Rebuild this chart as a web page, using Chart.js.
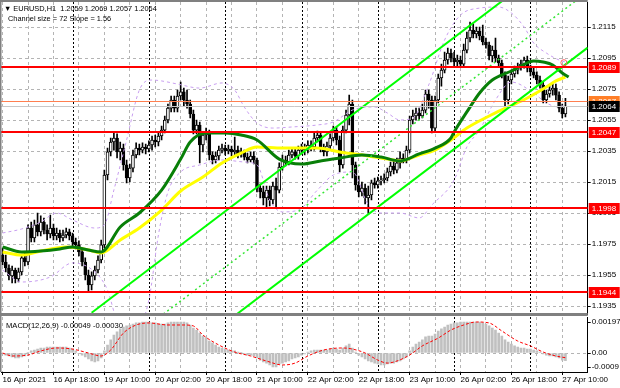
<!DOCTYPE html>
<html>
<head>
<meta charset="utf-8" />
<title>EURUSD H1</title>
<script src="https://cdn.jsdelivr.net/npm/chart.js@4"></script>
<style>
  html, body { margin: 0; padding: 0; background: #fff; }
  #wrap { position: relative; width: 620px; height: 388px; overflow: hidden; }
  #priceChart { position: absolute; left: 0; top: 0; }
  #macdChart { position: absolute; left: 0; top: 316px; }
</style>
</head>
<body>
<div id="wrap">
  <canvas id="priceChart" width="620" height="316"></canvas>
  <canvas id="macdChart" width="620" height="72"></canvas>
</div>
<script>
// hourly bars, 16 Apr 02:00 -> 27 Apr 11:00
const opens = [1.19679,1.19634,1.19595,1.19544,1.19582,1.19524,1.19570,1.19660,1.19634,1.19853,
  1.19789,1.19873,1.19828,1.19892,1.19840,1.19815,1.19853,1.19802,1.19821,1.19789,
  1.19808,1.19828,1.19802,1.19763,1.19744,1.19699,1.19634,1.19550,1.19486,1.19544,
  1.19582,1.19647,1.19744,1.20195,1.20344,1.20408,1.20434,1.20344,1.20369,1.20260,
  1.20176,1.20240,1.20324,1.20369,1.20356,1.20376,1.20363,1.20389,1.20421,1.20408,
  1.20447,1.20485,1.20550,1.20627,1.20679,1.20627,1.20705,1.20731,1.20679,1.20653,
  1.20589,1.20485,1.20518,1.20389,1.20453,1.20473,1.20324,1.20292,1.20318,1.20356,
  1.20369,1.20350,1.20363,1.20344,1.20356,1.20331,1.20344,1.20311,1.20292,1.20318,
  1.20292,1.20111,1.20086,1.20047,1.20098,1.20034,1.20124,1.20098,1.20247,1.20292,
  1.20279,1.20324,1.20344,1.20318,1.20356,1.20369,1.20356,1.20389,1.20376,1.20434,
  1.20453,1.20369,1.20344,1.20382,1.20434,1.20485,1.20421,1.20260,1.20485,1.20582,
  1.20653,1.20260,1.20131,1.20086,1.20111,1.20047,1.20066,1.20144,1.20131,1.20157,
  1.20163,1.20176,1.20215,1.20253,1.20227,1.20273,1.20305,1.20292,1.20356,1.20550,
  1.20576,1.20595,1.20576,1.20614,1.20718,1.20679,1.20498,1.20679,1.20821,1.20872,
  1.20937,1.20982,1.20950,1.20924,1.20937,1.20911,1.21001,1.21079,1.21130,1.21105,
  1.21124,1.21092,1.21053,1.21034,1.20963,1.21001,1.20950,1.20918,1.20840,1.20679,
  1.20808,1.20847,1.20872,1.20892,1.20911,1.20937,1.20885,1.20860,1.20840,1.20808,
  1.20776,1.20679,1.20718,1.20743,1.20756,1.20711,1.20627,1.20590];
const highs = [1.19724,1.19679,1.19615,1.19608,1.19595,1.19595,1.19679,1.19699,1.19873,1.19892,
  1.19905,1.19950,1.19931,1.19918,1.19873,1.19937,1.19879,1.19853,1.19840,1.19840,
  1.19853,1.19847,1.19821,1.19789,1.19770,1.19724,1.19660,1.19582,1.19570,1.19608,
  1.19673,1.19776,1.20227,1.20369,1.20434,1.20473,1.20460,1.20408,1.20395,1.20292,
  1.20266,1.20356,1.20402,1.20395,1.20402,1.20395,1.20415,1.20447,1.20453,1.20473,
  1.20511,1.20576,1.20653,1.20705,1.20705,1.20743,1.20795,1.20756,1.20743,1.20679,
  1.20614,1.20550,1.20537,1.20473,1.20498,1.20485,1.20344,1.20344,1.20382,1.20395,
  1.20389,1.20389,1.20382,1.20440,1.20382,1.20369,1.20356,1.20337,1.20344,1.20344,
  1.20305,1.20137,1.20124,1.20124,1.20124,1.20150,1.20176,1.20273,1.20324,1.20318,
  1.20356,1.20369,1.20369,1.20382,1.20395,1.20395,1.20415,1.20415,1.20466,1.20479,
  1.20466,1.20395,1.20408,1.20460,1.20511,1.20505,1.20447,1.20511,1.20614,1.20711,
  1.20679,1.20279,1.20189,1.20150,1.20137,1.20124,1.20163,1.20176,1.20182,1.20189,
  1.20202,1.20240,1.20279,1.20292,1.20305,1.20344,1.20331,1.20382,1.20576,1.20614,
  1.20627,1.20627,1.20653,1.20743,1.20743,1.20705,1.20705,1.20847,1.20911,1.20989,
  1.21014,1.21008,1.20989,1.20969,1.20963,1.21040,1.21118,1.21182,1.21169,1.21150,
  1.21150,1.21163,1.21079,1.21053,1.21027,1.21079,1.20969,1.20937,1.20860,1.20834,
  1.20872,1.20898,1.20918,1.20937,1.20956,1.20963,1.20905,1.20885,1.20860,1.20834,
  1.20795,1.20743,1.20769,1.20782,1.20782,1.20731,1.20653,1.20690];
const lows = [1.19615,1.19570,1.19518,1.19499,1.19499,1.19505,1.19550,1.19608,1.19615,1.19763,
  1.19763,1.19802,1.19802,1.19815,1.19776,1.19789,1.19776,1.19776,1.19763,1.19770,
  1.19789,1.19776,1.19737,1.19718,1.19673,1.19608,1.19518,1.19441,1.19453,1.19518,
  1.19563,1.19628,1.19724,1.20163,1.20318,1.20356,1.20305,1.20292,1.20227,1.20144,
  1.20150,1.20215,1.20305,1.20324,1.20337,1.20331,1.20344,1.20356,1.20376,1.20382,
  1.20421,1.20466,1.20531,1.20602,1.20602,1.20602,1.20679,1.20640,1.20627,1.20563,
  1.20460,1.20460,1.20273,1.20344,1.20421,1.20292,1.20266,1.20273,1.20292,1.20337,
  1.20324,1.20331,1.20318,1.20324,1.20305,1.20311,1.20292,1.20273,1.20279,1.20266,
  1.20086,1.20047,1.20002,1.19989,1.19995,1.20008,1.19989,1.20079,1.20227,1.20253,
  1.20260,1.20305,1.20298,1.20298,1.20331,1.20324,1.20337,1.20350,1.20356,1.20408,
  1.20344,1.20318,1.20318,1.20356,1.20415,1.20389,1.20215,1.20240,1.20466,1.20518,
  1.20176,1.20098,1.20053,1.20060,1.20008,1.19950,1.20034,1.20111,1.20111,1.20131,
  1.20144,1.20157,1.20189,1.20202,1.20208,1.20240,1.20273,1.20273,1.20337,1.20524,
  1.20550,1.20550,1.20563,1.20595,1.20627,1.20466,1.20479,1.20660,1.20769,1.20853,
  1.20911,1.20924,1.20898,1.20892,1.20898,1.20898,1.20982,1.21053,1.21079,1.21079,
  1.21066,1.21034,1.21014,1.20937,1.20924,1.20924,1.20898,1.20821,1.20614,1.20653,
  1.20782,1.20827,1.20847,1.20872,1.20885,1.20860,1.20834,1.20821,1.20782,1.20756,
  1.20660,1.20660,1.20698,1.20711,1.20679,1.20602,1.20563,1.20570];
const closes = [1.19634,1.19595,1.19544,1.19582,1.19524,1.19570,1.19660,1.19634,1.19853,1.19789,
  1.19873,1.19828,1.19892,1.19840,1.19815,1.19853,1.19802,1.19821,1.19789,1.19808,
  1.19828,1.19802,1.19763,1.19744,1.19699,1.19634,1.19550,1.19486,1.19544,1.19582,
  1.19647,1.19744,1.20195,1.20344,1.20408,1.20434,1.20344,1.20369,1.20260,1.20176,
  1.20240,1.20324,1.20369,1.20356,1.20376,1.20363,1.20389,1.20421,1.20408,1.20447,
  1.20485,1.20550,1.20627,1.20679,1.20627,1.20705,1.20731,1.20679,1.20653,1.20589,
  1.20485,1.20518,1.20389,1.20453,1.20473,1.20324,1.20292,1.20318,1.20356,1.20369,
  1.20350,1.20363,1.20344,1.20356,1.20331,1.20344,1.20311,1.20292,1.20318,1.20292,
  1.20111,1.20086,1.20047,1.20098,1.20034,1.20124,1.20098,1.20247,1.20292,1.20279,
  1.20324,1.20344,1.20318,1.20356,1.20369,1.20356,1.20389,1.20376,1.20434,1.20453,
  1.20369,1.20344,1.20382,1.20434,1.20485,1.20421,1.20260,1.20485,1.20582,1.20653,
  1.20260,1.20131,1.20086,1.20111,1.20047,1.20066,1.20144,1.20131,1.20157,1.20163,
  1.20176,1.20215,1.20253,1.20227,1.20273,1.20305,1.20292,1.20356,1.20550,1.20576,
  1.20595,1.20576,1.20614,1.20718,1.20679,1.20498,1.20679,1.20821,1.20872,1.20937,
  1.20982,1.20950,1.20924,1.20937,1.20911,1.21001,1.21079,1.21130,1.21105,1.21124,
  1.21092,1.21053,1.21034,1.20963,1.21001,1.20950,1.20918,1.20840,1.20679,1.20808,
  1.20847,1.20872,1.20892,1.20911,1.20937,1.20885,1.20860,1.20840,1.20808,1.20776,
  1.20679,1.20718,1.20743,1.20756,1.20711,1.20627,1.20589,1.20640];

// moving averages, read at bar positions
const maGreenIdx = [0,6,12,18,22,27,31,37,43,50,56,59,64,70,75,80,87,94,100,106,113,119,125,131,136,141,142,146,150,154,160,163,167,170,173,176,178];
const maGreenVal = [1.19731,1.19699,1.19705,1.19718,1.19731,1.19711,1.19699,1.19860,1.19950,1.20098,1.20298,1.20408,1.20466,1.20466,1.20453,1.20421,1.20298,1.20266,1.20286,1.20305,1.20324,1.20311,1.20286,1.20331,1.20369,1.20434,1.20473,1.20602,1.20724,1.20808,1.20866,1.20898,1.20931,1.20924,1.20905,1.20853,1.20827];
const maYellowIdx = [0,6,12,20,27,31,37,43,50,56,63,69,75,80,88,99,106,115,121,125,131,136,141,146,153,159,165,171,174,177];
const maYellowVal = [1.19699,1.19679,1.19705,1.19731,1.19711,1.19692,1.19776,1.19853,1.19969,1.20092,1.20182,1.20273,1.20337,1.20376,1.20369,1.20369,1.20344,1.20318,1.20298,1.20286,1.20324,1.20356,1.20421,1.20498,1.20576,1.20634,1.20692,1.20763,1.20802,1.20827];

// envelope bands (dashed violet)
const bandUpIdx = [0,6,12,17,22,29,32,35,39,43,47,50,55,62,69,73,76,80,85,91,99,104,110,117,121,125,129,134,139,144,150,156,160,164,167,171,175,177];
const bandUpVal = [1.19821,1.19847,1.19892,1.19950,1.19905,1.19853,1.19873,1.20098,1.20421,1.20743,1.20808,1.20802,1.20782,1.20756,1.20789,1.20743,1.20634,1.20531,1.20498,1.20505,1.20518,1.20537,1.20614,1.20634,1.20595,1.20550,1.20563,1.20776,1.21066,1.21227,1.21272,1.21279,1.21240,1.21150,1.21047,1.20982,1.20937,1.20924];
const bandLoIdx = [0,6,15,22,29,33,36,42,46,49,52,56,62,69,76,80,84,88,93,99,104,110,115,119,125,131,135,142,146,150,155,160,167,171,175,177];
const bandLoVal = [1.19582,1.19505,1.19537,1.19628,1.19570,1.19453,1.19260,1.19196,1.19389,1.19808,1.20086,1.20215,1.20260,1.20292,1.20279,1.20260,1.20034,1.19957,1.19969,1.20098,1.20195,1.20215,1.20002,1.19950,1.19950,1.19918,1.20002,1.20163,1.20376,1.20485,1.20679,1.20795,1.20724,1.20660,1.20634,1.20653];

// regression channel (72 pips wide, slope 1.56)
const channelIdx = [28, 184];
const channelUpper = [1.19306, 1.21737];
const channelMid = [1.18946, 1.21377];
const channelLower = [1.18586, 1.21017];

const redLevels = [1.2089, 1.2047, 1.1998, 1.1944];
const pivotLevel = 1.2067;
const bidLevel = 1.2064;
const markerIdx = [176.5];
const markerVal = [1.2092];

const priceTicks = [1.2115, 1.2095, 1.2075, 1.2055, 1.2035, 1.2015, 1.1995, 1.1975, 1.1955, 1.1935];
const dayBreaks = [22, 46, 70, 94, 118, 142, 166];
const timeLabelIdx = [0, 16, 32, 48, 64, 80, 96, 112, 128, 144, 160, 176];
const timeLabels = ['16 Apr 2021', '16 Apr 18:00', '19 Apr 10:00', '20 Apr 02:00', '20 Apr 18:00', '21 Apr 10:00',
  '22 Apr 02:00', '22 Apr 18:00', '23 Apr 10:00', '26 Apr 02:00', '26 Apr 18:00', '27 Apr 10:00'];

// MACD(12,26,9) main values (histogram) and signal
const macdHist = [-0.00006,-0.00013,-0.00019,-0.00025,-0.00032,-0.00032,-0.00025,-0.00019,0.00002,0.00013,
  0.00019,0.00025,0.00032,0.00032,0.00038,0.00038,0.00038,0.00038,0.00038,0.00038,
  0.00038,0.00032,0.00025,0.00013,-0.00002,-0.00013,-0.00025,-0.00038,-0.00051,-0.00057,
  -0.00051,-0.00032,0.00013,0.00051,0.00083,0.00114,0.00134,0.00153,0.00165,0.00172,
  0.00178,0.00184,0.00191,0.00191,0.00197,0.00197,0.00197,0.00191,0.00191,0.00184,
  0.00184,0.00184,0.00191,0.00197,0.00197,0.00197,0.00197,0.00197,0.00191,0.00178,
  0.00159,0.00146,0.00127,0.00108,0.00095,0.00076,0.00064,0.00051,0.00038,0.00032,
  0.00025,0.00019,0.00013,0.00013,0.00006,0.00001,-0.00006,-0.00013,-0.00013,-0.00019,
  -0.00032,-0.00045,-0.00057,-0.00064,-0.00076,-0.00089,-0.00089,-0.00070,-0.00064,-0.00057,
  -0.00051,-0.00038,-0.00032,-0.00025,-0.00013,-0.00006,0.00006,0.00013,0.00019,0.00019,
  0.00019,0.00019,0.00019,0.00025,0.00032,0.00025,0.00019,0.00032,0.00045,0.00057,
  0.00032,0.00006,-0.00013,-0.00025,-0.00038,-0.00051,-0.00057,-0.00064,-0.00070,-0.00076,
  -0.00076,-0.00070,-0.00064,-0.00064,-0.00057,-0.00051,-0.00038,-0.00025,0.00013,0.00038,
  0.00057,0.00070,0.00083,0.00102,0.00108,0.00108,0.00121,0.00140,0.00153,0.00165,
  0.00178,0.00184,0.00191,0.00191,0.00197,0.00197,0.00197,0.00197,0.00197,0.00197,
  0.00197,0.00191,0.00184,0.00172,0.00159,0.00146,0.00127,0.00108,0.00083,0.00070,
  0.00057,0.00045,0.00038,0.00032,0.00032,0.00025,0.00025,0.00019,0.00013,0.00006,
  -0.00006,-0.00013,-0.00019,-0.00019,-0.00025,-0.00032,-0.00045,-0.00049];
const signalIdx = [0,3,8,12,17,22,27,31,34,38,42,46,52,57,60,63,68,73,78,83,88,92,96,101,107,110,114,118,121,124,128,132,137,141,145,149,153,157,162,166,170,174,177];
const signalVal = [0,-0.00019,-0.00013,0.00013,0.00032,0.00025,0,-0.00019,0.00019,0.00127,0.00178,0.00191,0.00178,0.00178,0.00172,0.00114,0.00051,0.00006,-0.00019,-0.00051,-0.00076,-0.00064,-0.00019,0.00019,0.00032,0.00025,0,-0.00045,-0.00064,-0.00051,-0.00013,0.00045,0.00095,0.00146,0.00178,0.00197,0.00191,0.00140,0.00076,0.00045,0.00006,-0.00019,-0.00030];
const macdTicks = [0.00197, 0, -0.0009];
const macdTickLabels = ['0.00197', '0.00', '-0.0009'];

const FONT = "'Liberation Sans', Arial, sans-serif";
Chart.defaults.font.family = FONT;
Chart.defaults.font.size = 8;
Chart.defaults.color = '#000';

const GRID = '#b4b4b4';
const AXIS_W = 32.3;
const X_MIN = -0.5, X_MAX = 184;
const barIdx = opens.map((_, i) => i);
const pts = (xs, ys) => xs.map((x, k) => ({ x: x, y: ys[k] }));
const last = opens.length - 1;

function xAxisGrid(scale) {
  const t = [];
  for (let v = 0; v <= 176; v += 8) t.push({ value: v });
  scale.ticks = t;
}
// keep the plot area exactly where the layout puts it
function noPad(scale) {
  scale.paddingTop = 0; scale.paddingBottom = 0;
  scale.paddingLeft = 0; scale.paddingRight = 0;
}

// black dotted day separators, behind the bars
const separators = {
  id: 'separators',
  beforeDatasetsDraw(chart) {
    const { ctx, chartArea, scales } = chart;
    ctx.save();
    ctx.strokeStyle = '#000';
    ctx.lineWidth = 1;
    ctx.setLineDash([2, 2]);
    dayBreaks.forEach(d => {
      const x = Math.round(scales.x.getPixelForValue(d)) + 0.5;
      ctx.beginPath();
      ctx.moveTo(x, chartArea.top);
      ctx.lineTo(x, chartArea.bottom);
      ctx.stroke();
    });
    ctx.restore();
  }
};

const priceOverlay = {
  id: 'priceOverlay',
  afterDatasetsDraw(chart) {
    const { ctx, chartArea, scales } = chart;
    const y = scales.y;
    ctx.save();
    ctx.beginPath();
    ctx.rect(chartArea.left, chartArea.top, chartArea.right - chartArea.left, chartArea.bottom - chartArea.top);
    ctx.clip();
    const hline = (v, color, w) => {
      const py = Math.round(y.getPixelForValue(v)) + (w % 2 ? 0.5 : 0);
      ctx.strokeStyle = color;
      ctx.lineWidth = w;
      ctx.beginPath();
      ctx.moveTo(chartArea.left, py);
      ctx.lineTo(chartArea.right, py);
      ctx.stroke();
    };
    hline(bidLevel, '#c8c8c8', 1);
    hline(pivotLevel, '#ff7f50', 1);
    redLevels.forEach(v => hline(v, '#ff0000', 2));
    ctx.restore();
  },
  afterDraw(chart) {
    const { ctx, chartArea, scales } = chart;
    const y = scales.y;
    ctx.save();
    // frame
    ctx.fillStyle = '#808080';
    ctx.fillRect(0, 0, chartArea.right, 2);
    ctx.fillRect(0, 0, 1.5, chart.height);
    ctx.fillRect(0, chartArea.bottom - 1, chartArea.right, 3);
    // price boxes on the axis
    ctx.font = '8px ' + FONT;
    ctx.textBaseline = 'middle';
    const box = (v, bg, fg) => {
      const py = y.getPixelForValue(v);
      ctx.fillStyle = bg;
      ctx.fillRect(chartArea.right + 1, Math.round(py) - 5, 31, 11);
      ctx.fillStyle = fg;
      ctx.fillText(v.toFixed(4), chartArea.right + 4, py + 0.5);
    };
    redLevels.forEach(v => box(v, '#ff0000', '#fff'));
    box(pivotLevel, '#ff7f27', '#fff');
    box(bidLevel, '#000', '#fff');
    // header
    ctx.fillStyle = '#000';
    ctx.font = '7.4px ' + FONT;
    ctx.fillText('\u25BC EURUSD,H1  ' + [opens[last], highs[last], lows[last], closes[last]].map(v => v.toFixed(4)).join(' '), 4, 8.5);
    ctx.fillText('Channel size = 72 Slope = 1.56', 8, 18.5);
    ctx.restore();
  }
};

const lineDs = (data, color, width, extra) => Object.assign({
  type: 'line', data: data, borderColor: color, borderWidth: width, pointRadius: 0,
  fill: false, cubicInterpolationMode: 'monotone', order: 1
}, extra || {});

new Chart(document.getElementById('priceChart'), {
  type: 'bar',
  data: {
    datasets: [
      { data: barIdx.map(i => ({ x: i, y: [lows[i], highs[i]] })), backgroundColor: '#000',
        barThickness: 1, grouped: false, order: 6 },
      { data: barIdx.map(i => ({ x: i, y: [opens[i], closes[i]] })),
        backgroundColor: barIdx.map(i => closes[i] >= opens[i] ? '#fff' : '#000'),
        borderColor: '#000', borderWidth: 1, borderSkipped: false,
        barThickness: 3, grouped: false, order: 5 },
      lineDs(pts(bandUpIdx, bandUpVal), '#c89ef0', 1, { borderDash: [3, 3], order: 4 }),
      lineDs(pts(bandLoIdx, bandLoVal), '#c89ef0', 1, { borderDash: [3, 3], order: 4 }),
      lineDs(pts(maYellowIdx, maYellowVal), '#ffff00', 3, { order: 3 }),
      lineDs(pts(maGreenIdx, maGreenVal), '#087f08', 3, { order: 2 }),
      lineDs(pts(channelIdx, channelUpper), '#00ff00', 2, { cubicInterpolationMode: 'default' }),
      lineDs(pts(channelIdx, channelMid), '#33e633', 1.5, { borderDash: [2, 3], cubicInterpolationMode: 'default' }),
      lineDs(pts(channelIdx, channelLower), '#00ff00', 2, { cubicInterpolationMode: 'default' }),
      { type: 'scatter', data: pts(markerIdx, markerVal), pointRadius: 3, pointBorderWidth: 1,
        pointBorderColor: '#ff6060', pointBackgroundColor: 'rgba(0,0,0,0)', order: 0 }
    ]
  },
  options: {
    responsive: false,
    animation: false,
    devicePixelRatio: 1,
    layout: { autoPadding: false, padding: { left: 1, top: 2, right: 0, bottom: 2 } },
    plugins: { legend: { display: false }, tooltip: { enabled: false } },
    scales: {
      x: {
        type: 'linear', min: X_MIN, max: X_MAX, offset: false,
        grid: { color: GRID, drawTicks: false, offset: false },
        border: { display: false, dash: [3, 3] },
        ticks: { display: false },
        afterBuildTicks: xAxisGrid,
        afterFit: s => { s.height = 0; noPad(s); }
      },
      y: {
        type: 'linear', position: 'right',
        min: 1.2035 - 163 / 15500, max: 1.2035 + 149 / 15500,
        grid: { color: GRID, tickColor: '#000', tickLength: 3, tickBorderDash: [] },
        border: { display: true, color: '#000', dash: [3, 3] },
        ticks: { padding: 1, color: '#000', callback: v => v.toFixed(4) },
        afterBuildTicks: s => { s.ticks = priceTicks.map(v => ({ value: v })); },
        afterFit: s => { s.width = AXIS_W; noPad(s); }
      }
    }
  },
  plugins: [separators, priceOverlay]
});

const macdOverlay = {
  id: 'macdOverlay',
  afterDraw(chart) {
    const { ctx } = chart;
    ctx.save();
    ctx.fillStyle = '#808080';
    ctx.fillRect(0, 0, 1.5, chart.chartArea.bottom);
    ctx.fillStyle = '#000';
    ctx.font = '7.6px ' + FONT;
    ctx.textBaseline = 'middle';
    const m = macdHist[last], s = signalVal[signalVal.length - 1];
    ctx.fillText('MACD(12,26,9) ' + m.toFixed(5) + ' ' + s.toFixed(5), 6, 9.5);
    ctx.restore();
  }
};

new Chart(document.getElementById('macdChart'), {
  type: 'bar',
  data: {
    datasets: [
      { data: barIdx.map(i => ({ x: i, y: macdHist[i] })), backgroundColor: '#c0c0c0',
        barThickness: 2, grouped: false, order: 2 },
      { type: 'line', data: pts(signalIdx, signalVal), borderColor: '#ff0000', borderWidth: 1,
        borderDash: [3, 2], pointRadius: 0, cubicInterpolationMode: 'monotone', order: 1 }
    ]
  },
  options: {
    responsive: false,
    animation: false,
    devicePixelRatio: 1,
    layout: { autoPadding: false, padding: { left: 1, top: 1, right: 0, bottom: 0 } },
    plugins: { legend: { display: false }, tooltip: { enabled: false } },
    scales: {
      x: {
        type: 'linear', min: X_MIN, max: X_MAX, offset: false,
        grid: { color: GRID, offset: false, tickLength: 3, tickBorderDash: [],
          tickColor: c => (c.tick && timeLabelIdx.includes(c.tick.value)) ? '#000' : 'rgba(0,0,0,0)' },
        border: { display: true, color: '#000', dash: [3, 3] },
        ticks: { align: 'start', padding: 0, maxRotation: 0, autoSkip: false, color: '#000',
          callback: v => { const k = timeLabelIdx.indexOf(v); return k >= 0 ? timeLabels[k] : ''; } },
        afterBuildTicks: xAxisGrid,
        afterFit: s => { s.height = 16; noPad(s); }
      },
      y: {
        type: 'linear', position: 'right',
        min: -19 / 15736, max: 36 / 15736,
        grid: { color: c => (c.tick && c.tick.value === 0) ? GRID : 'rgba(0,0,0,0)',
          tickColor: '#000', tickLength: 3, tickBorderDash: [] },
        border: { display: true, color: '#000', dash: [3, 3] },
        ticks: { padding: 1, color: '#000',
          callback: v => { const k = macdTicks.indexOf(v); return k >= 0 ? macdTickLabels[k] : ''; } },
        afterBuildTicks: s => { s.ticks = macdTicks.map(v => ({ value: v })); },
        afterFit: s => { s.width = AXIS_W; noPad(s); }
      }
    }
  },
  plugins: [separators, macdOverlay]
});
</script>
</body>
</html>
